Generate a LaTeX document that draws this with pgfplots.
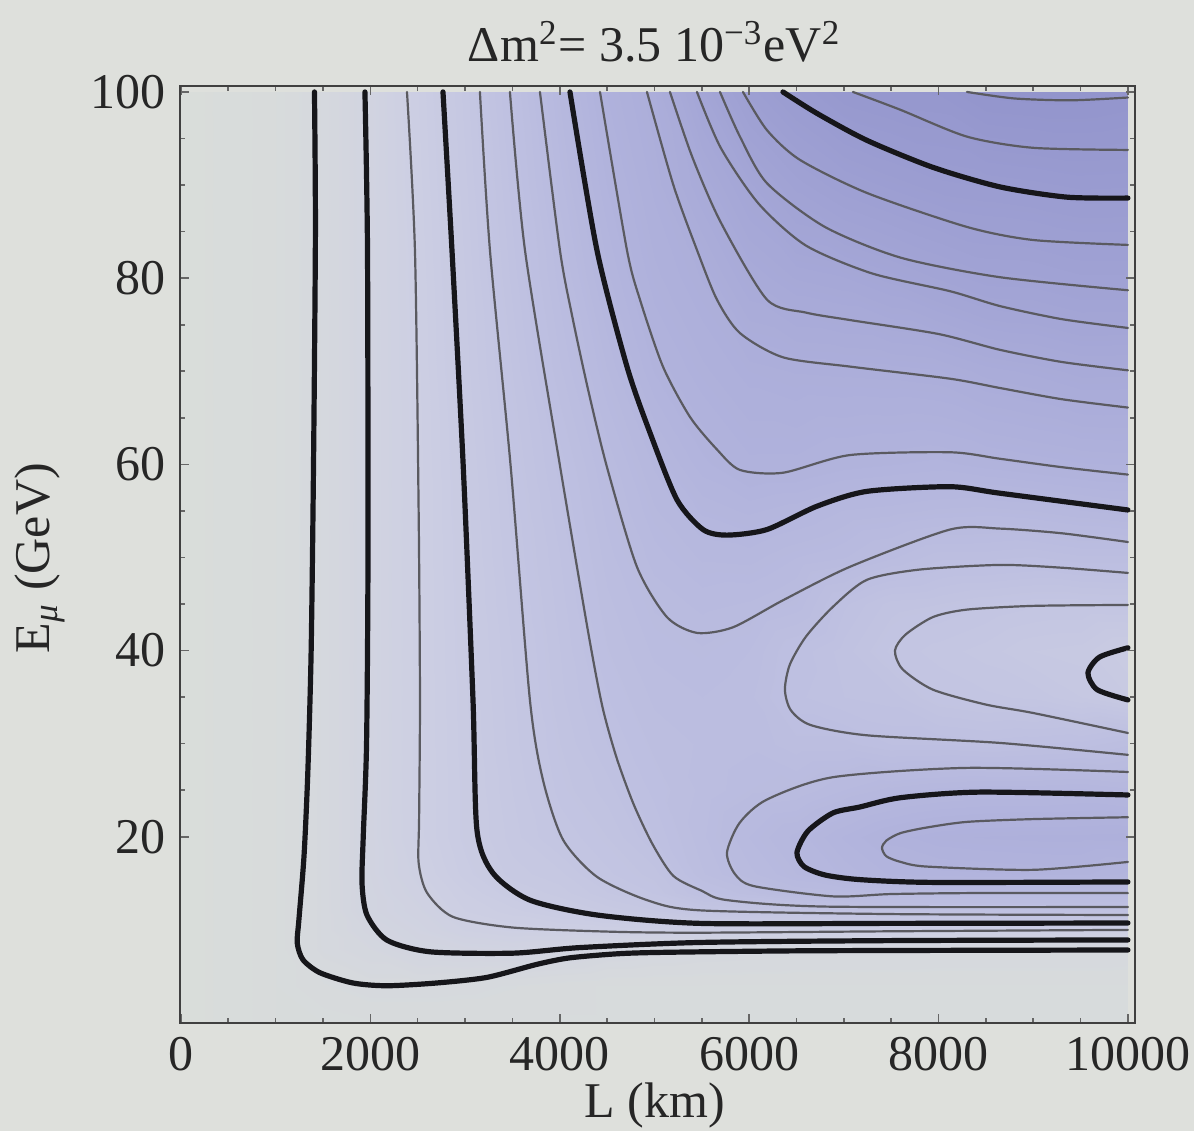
\documentclass[border=0pt]{standalone}
\usepackage{pgfplots}
\pgfplotsset{compat=1.18}
\usepackage{fontspec}
\setmainfont{Liberation Serif}
\usetikzlibrary{backgrounds}
\definecolor{pagebg}{RGB}{222,224,220}
\definecolor{thinc}{RGB}{90,90,96}
\definecolor{thickc}{RGB}{22,22,26}
\pgfplotsset{
  thickl/.style={line width=1.3pt, color=thickc, smooth, tension=0.45, no markers, line join=round, line cap=round},
  thinl/.style={line width=0.55pt, color=thinc, smooth, tension=0.45, no markers, line join=round, line cap=round},
}
\begin{document}
\begin{tikzpicture}
\begin{axis}[
  name=ax, at={(0,0)}, anchor=south west,
  width=238.75pt, height=234.25pt, scale only axis,
  xmin=-10, xmax=10075, ymin=0, ymax=100.64,
  xtick={0,2000,4000,6000,8000,10000}, ytick={20,40,60,80,100},
  minor x tick num=3, minor y tick num=3,
  tick align=inside, major tick length=2.2pt, minor tick length=1.2pt,
  tick style={black!60, line width=0.4pt},
  axis on top,
  axis line style={black!75, line width=0.6pt},
  scaled x ticks=false,
  /pgf/number format/assume math mode=true,
  /pgf/number format/set thousands separator={},
  tick label style={font=\fontsize{12.5}{15}\selectfont, text=black!85},
  label style={font=\fontsize{12.5}{15}\selectfont, text=black!85},
  title style={font=\fontsize{12.5}{15}\selectfont, text=black!85, at={(axis description cs:0.497,1.047)}, anchor=center, yshift=-6pt},
  xlabel={L (km)},
  xlabel style={at={(axis description cs:0.497,-0.0875)}, anchor=center},
  ylabel={E\textsubscript{\textit{μ}} (GeV)},
  ylabel style={at={(axis description cs:-0.1466,0.496)}, anchor=center},
  title={Δm\textsuperscript{2}= 3.5 10\textsuperscript{−3}eV\textsuperscript{2}},
  colormap={cont}{rgb255(0pt)=(217,221,218); rgb255(10pt)=(214,217,221); rgb255(30pt)=(205,207,227); rgb255(60pt)=(190,192,225); rgb255(90pt)=(176,178,220); rgb255(120pt)=(164,166,214); rgb255(175pt)=(146,148,204)},
  point meta min=0, point meta max=17.5,
]
% shading of the contour levels
\addplot[surf, shader=interp, mesh/cols=20, point meta=explicit] coordinates {
(0,0)[0] (1000,0)[0.5] (1500,0)[0.5] (2000,0)[0.6] (2500,0)[0.6] (3000,0)[0.6] (3500,0)[0.6] (4000,0)[0.6] (4500,0)[0.6] (5000,0)[0.6] (5500,0)[0.6] (6000,0)[0.6] (6500,0)[0.6] (7000,0)[0.6] (7500,0)[0.6] (8000,0)[0.6] (8500,0)[0.6] (9000,0)[0.6] (9500,0)[0.6] (10000,0)[0.6]

(0,4)[0] (1000,4)[0.5] (1500,4)[0.8] (2000,4)[1.0] (2500,4)[1.0] (3000,4)[0.95] (3500,4)[0.85] (4000,4)[0.7] (4500,4)[0.6] (5000,4)[0.6] (5500,4)[0.6] (6000,4)[0.6] (6500,4)[0.6] (7000,4)[0.6] (7500,4)[0.6] (8000,4)[0.6] (8500,4)[0.6] (9000,4)[0.6] (9500,4)[0.6] (10000,4)[0.6]

(0,8)[0] (1000,8)[0.5] (1500,8)[1.2] (2000,8)[1.5] (2500,8)[2.0] (3000,8)[2.1] (3500,8)[2.2] (4000,8)[2.05] (4500,8)[1.67] (5000,8)[1.5] (5500,8)[1.36] (6000,8)[1.3] (6500,8)[1.2] (7000,8)[1.2] (7500,8)[1.2] (8000,8)[1.15] (8500,8)[1.15] (9000,8)[1.15] (9500,8)[1.15] (10000,8)[1.1]

(0,10)[0] (1000,10)[0.5] (1500,10)[1.2] (2000,10)[1.8] (2500,10)[2.2] (3000,10)[2.7] (3500,10)[2.93] (4000,10)[3.0] (4500,10)[3.12] (5000,10)[3.19] (5500,10)[3.3] (6000,10)[3.3] (6500,10)[3.25] (7000,10)[3.2] (7500,10)[3.2] (8000,10)[3.2] (8500,10)[3.2] (9000,10)[3.2] (9500,10)[3.2] (10000,10)[3.0]

(0,12)[0] (1000,12)[0.5] (1500,12)[1.2] (2000,12)[2.05] (2500,12)[2.4] (3000,12)[3.1] (3500,12)[3.4] (4000,12)[3.8] (4500,12)[4.14] (5000,12)[4.46] (5500,12)[4.93] (6000,12)[5.1] (6500,12)[5.2] (7000,12)[5.35] (7500,12)[5.6] (8000,12)[5.6] (8500,12)[5.6] (9000,12)[5.6] (9500,12)[5.6] (10000,12)[5.5]

(0,14)[0] (1000,14)[0.5] (1500,14)[1.2] (2000,14)[2.05] (2500,14)[2.6] (3000,14)[3.3] (3500,14)[3.86] (4000,14)[4.19] (4500,14)[4.68] (5000,14)[5.12] (5500,14)[5.95] (6000,14)[6.43] (6500,14)[6.97] (7000,14)[7.1] (7500,14)[7.1] (8000,14)[7.1] (8500,14)[7.1] (9000,14)[7.1] (9500,14)[7.1] (10000,14)[7.03]

(0,16)[0] (1000,16)[0.5] (1500,16)[1.2] (2000,16)[2.1] (2500,16)[2.8] (3000,16)[3.6] (3500,16)[4.2] (4000,16)[4.44] (4500,16)[5.05] (5000,16)[5.39] (5500,16)[6.5] (6000,16)[7.1] (6500,16)[7.6] (7000,16)[8.1] (7500,16)[8.5] (8000,16)[8.6] (8500,16)[8.65] (9000,16)[8.7] (9500,16)[8.75] (10000,16)[8.4]

(0,20)[0] (1000,20)[0.5] (1500,20)[1.2] (2000,20)[2.1] (2500,20)[3.0] (3000,20)[3.79] (3500,20)[4.4] (4000,20)[4.95] (4500,20)[5.3] (5000,20)[5.9] (5500,20)[6.7] (6000,20)[7.4] (6500,20)[7.9] (7000,20)[8.5] (7500,20)[9.0] (8000,20)[9.3] (8500,20)[9.4] (9000,20)[9.45] (9500,20)[9.45] (10000,20)[9.5]

(0,25)[0] (1000,25)[0.5] (1500,25)[1.2] (2000,25)[2.1] (2500,25)[3.0] (3000,25)[3.8] (3500,25)[4.5] (4000,25)[5.18] (4500,25)[5.6] (5000,25)[6.18] (5500,25)[6.6] (6000,25)[6.9] (6500,25)[7.0] (7000,25)[7.4] (7500,25)[7.7] (8000,25)[7.9] (8500,25)[8.0] (9000,25)[8.0] (9500,25)[8.1] (10000,25)[7.9]

(0,30)[0] (1000,30)[0.5] (1500,30)[1.2] (2000,30)[2.1] (2500,30)[3.0] (3000,30)[3.83] (3500,30)[4.6] (4000,30)[5.3] (4500,30)[5.9] (5000,30)[6.38] (5500,30)[6.57] (6000,30)[6.7] (6500,30)[6.4] (7000,30)[6.4] (7500,30)[6.1] (8000,30)[6.1] (8500,30)[6.0] (9000,30)[6.1] (9500,30)[6.2] (10000,30)[6.5]

(0,35)[0] (1000,35)[0.5] (1500,35)[1.2] (2000,35)[2.1] (2500,35)[3.0] (3000,35)[3.86] (3500,35)[4.65] (4000,35)[5.44] (4500,35)[6.1] (5000,35)[6.59] (5500,35)[6.75] (6000,35)[6.6] (6500,35)[5.95] (7000,35)[5.7] (7500,35)[5.6] (8000,35)[5.1] (8500,35)[4.95] (9000,35)[4.85] (9500,35)[4.5] (10000,35)[4.1]

(0,40)[0] (1000,40)[0.5] (1500,40)[1.2] (2000,40)[2.1] (2500,40)[3.0] (3000,40)[3.9] (3500,40)[4.7] (4000,40)[5.5] (4500,40)[6.3] (5000,40)[6.8] (5500,40)[6.93] (6000,40)[6.75] (6500,40)[6.05] (7000,40)[5.6] (7500,40)[5.05] (8000,40)[4.8] (8500,40)[4.6] (9000,40)[4.3] (9500,40)[4.2] (10000,40)[3.7]

(0,45)[0] (1000,45)[0.5] (1500,45)[1.2] (2000,45)[2.1] (2500,45)[3.0] (3000,45)[3.93] (3500,45)[4.8] (4000,45)[5.6] (4500,45)[6.47] (5000,45)[7.0] (5500,45)[7.25] (6000,45)[7.15] (6500,45)[6.9] (7000,45)[5.95] (7500,45)[5.4] (8000,45)[5.3] (8500,45)[5.1] (9000,45)[4.95] (9500,45)[4.95] (10000,45)[5.0]

(0,50)[0] (1000,50)[0.5] (1500,50)[1.2] (2000,50)[2.1] (2500,50)[3.0] (3000,50)[3.96] (3500,50)[4.9] (4000,50)[5.7] (4500,50)[6.65] (5000,50)[7.29] (5500,50)[7.65] (6000,50)[7.7] (6500,50)[7.4] (7000,50)[7.2] (7500,50)[6.8] (8000,50)[6.4] (8500,50)[6.4] (9000,50)[6.3] (9500,50)[6.5] (10000,50)[6.5]

(0,55)[0] (1000,55)[0.5] (1500,55)[1.2] (2000,55)[2.1] (2500,55)[3.0] (3000,55)[4.0] (3500,55)[4.97] (4000,55)[5.85] (4500,55)[6.83] (5000,55)[7.57] (5500,55)[8.08] (6000,55)[8.3] (6500,55)[8.1] (7000,55)[7.8] (7500,55)[7.7] (8000,55)[7.55] (8500,55)[7.5] (9000,55)[7.6] (9500,55)[7.8] (10000,55)[7.95]

(0,60)[0] (1000,60)[0.5] (1500,60)[1.2] (2000,60)[2.1] (2500,60)[3.0] (3000,60)[4.05] (3500,60)[5.07] (4000,60)[6.0] (4500,60)[7.02] (5000,60)[7.86] (5500,60)[8.6] (6000,60)[9.05] (6500,60)[9.04] (7000,60)[8.8] (7500,60)[8.7] (8000,60)[8.6] (8500,60)[8.8] (9000,60)[8.95] (9500,60)[9.1] (10000,60)[9.15]

(0,70)[0] (1000,70)[0.5] (1500,70)[1.2] (2000,70)[2.1] (2500,70)[3.05] (3000,70)[4.2] (3500,70)[5.3] (4000,70)[6.5] (4500,70)[7.6] (5000,70)[8.7] (5500,70)[9.3] (6000,70)[9.75] (6500,70)[9.9] (7000,70)[9.95] (7500,70)[10.0] (8000,70)[10.1] (8500,70)[10.5] (9000,70)[10.7] (9500,70)[11.0] (10000,70)[10.97]

(0,80)[0] (1000,80)[0.5] (1500,80)[1.2] (2000,80)[2.1] (2500,80)[3.1] (3000,80)[4.3] (3500,80)[5.57] (4000,80)[6.87] (4500,80)[8.18] (5000,80)[9.28] (5500,80)[9.9] (6000,80)[10.9] (6500,80)[11.4] (7000,80)[11.6] (7500,80)[12.0] (8000,80)[12.5] (8500,80)[12.95] (9000,80)[13.0] (9500,80)[13.3] (10000,80)[13.3]

(0,90)[0] (1000,90)[0.5] (1500,90)[1.2] (2000,90)[2.1] (2500,90)[3.2] (3000,90)[4.45] (3500,90)[5.8] (4000,90)[7.3] (4500,90)[8.7] (5000,90)[9.7] (5500,90)[10.9] (6000,90)[12.06] (6500,90)[13.2] (7000,90)[13.95] (7500,90)[14.4] (8000,90)[14.8] (8500,90)[14.95] (9000,90)[15.1] (9500,90)[15.3] (10000,90)[15.25]

(0,100)[0] (1000,100)[0.5] (1500,100)[1.2] (2000,100)[2.1] (2500,100)[3.3] (3000,100)[4.6] (3500,100)[6.05] (4000,100)[7.66] (4500,100)[9.15] (5000,100)[10.1] (5500,100)[12.1] (6000,100)[14.1] (6500,100)[15.2] (7000,100)[16.1] (7500,100)[16.4] (8000,100)[16.5] (8500,100)[17.2] (9000,100)[17.3] (9500,100)[17.3] (10000,100)[17.1]
};
% contour lines: vertical-to-horizontal family
\addplot[thickl] coordinates {(1410,100) (1420,85) (1400,60) (1375,40) (1340,27) (1300,18) (1245,11) (1228,8.6) (1288,6.8) (1468,5.4) (1816,4.3) (2175,4.0) (2703,4.3) (3231,4.9) (3759,6.3) (4108,7.0) (4636,7.45) (5164,7.6) (6500,7.75) (8000,7.8) (10000,7.84)};
\addplot[thickl] coordinates {(1943,100) (1970,83) (1975,50) (1960,30) (1925,20) (1912,15) (1964,11.6) (2175,8.9) (2629,7.65) (3506,7.5) (4213,8.1) (5481,8.65) (7500,8.85) (10000,8.92)};
\addplot[thinl] coordinates {(2387,100) (2471,83) (2510,55) (2524,35) (2515,22) (2510,17.2) (2598,14.0) (2872,11.4) (3506,10.25) (4562,9.8) (5481,9.7) (7500,9.85) (10000,10.0)};
\addplot[thickl] coordinates {(2767,100) (2862,83) (2980,60) (3084,34.7) (3126,20.7) (3295,16.1) (3685,13.2) (4393,11.6) (5481,10.7) (7500,10.7) (10000,10.74)};
\addplot[thinl] coordinates {(3157,100) (3263,83) (3480,60) (3685,34.7) (3823,26.1) (4034,19.7) (4393,15.7) (4921,13.2) (5481,12.1) (7500,11.7) (10000,11.6)};
\addplot[thinl] coordinates {(3474,100) (3633,83) (4000,60) (4300,42) (4450,34) (4600,28.5) (4780,23.5) (4980,19.2) (5200,15.8) (5500,14.2) (5766,13.2) (6822,12.5) (10000,12.46)};
\addplot[thinl] coordinates {(3791,100) (4002,83) (4130,76) (4300,68) (4499,59.7) (4815,49.0) (5132,43.6) (5449,41.9) (5829,42.5) (6357,45.4) (7065,49.0) (8121,53.0) (8649,53.1) (9300,52.6) (10000,51.66)};
\addplot[thickl] coordinates {(4108,100) (4393,83) (4710,70.5) (4953,63.4) (5238,56.2) (5513,53.0) (5766,52.4) (6188,53.0) (6716,55.5) (7244,57.1) (8121,57.6) (8649,56.9) (10000,55.1)};
\addplot[thinl] coordinates {(4425,100) (4710,83) (4847,77.7) (5090,70.5) (5375,65.1) (5660,61.6) (5903,59.4) (6357,59.1) (7065,61.0) (8121,61.3) (8649,60.6) (9300,59.7) (10000,58.9)};
\addplot[thinl] coordinates {(4921,100) (5200,90) (5450,83) (5660,77.7) (5903,74.1) (6357,71.5) (7065,70.5) (8121,69.2) (8649,68.2) (9300,67.0) (10000,66.1)};
\addplot[thinl] coordinates {(5164,100) (5400,93) (5700,86) (6188,77.7) (6600,76.3) (7065,75.5) (8000,74.0) (8649,72.3) (9300,71.0) (10000,70.1)};
\addplot[thinl] coordinates {(5449,100) (5700,94) (6100,88) (6600,83.5) (7300,80.5) (8121,78.6) (8649,77.0) (9300,75.6) (10000,74.65)};
\addplot[thinl] coordinates {(5692,100) (5903,95.2) (6188,90.2) (6800,85.5) (7600,82.2) (8649,80.1) (10000,78.7)};
\addplot[thinl] coordinates {(5935,100) (6188,95.9) (6537,92.7) (7244,89.15) (8300,85.5) (8997,84.1) (10000,83.57)};
\addplot[thickl] coordinates {(6357,100) (6716,97.7) (7244,94.8) (7941,91.9) (8649,89.8) (9356,88.7) (10000,88.6)};
\addplot[thinl] coordinates {(7096,100) (7593,98.1) (8300,95.2) (8997,94.0) (10000,93.77)};
\addplot[thinl] coordinates {(8300,100) (8800,99.3) (9400,99.1) (10000,99.4)};
% lower nest (dark island)
\addplot[thinl] coordinates {(10000,26.96) (8300,27.4) (6885,26.4) (6188,24.0) (5900,21.5) (5766,18.3) (5850,16.0) (6050,14.7) (6885,13.6) (7500,13.85) (8437,13.96) (10000,13.96)};
\addplot[thickl] coordinates {(10000,24.49) (8437,24.8) (7600,24.2) (7170,23.2) (6885,22.56) (6620,20.6) (6505,18.3) (6580,16.8) (6800,15.9) (7170,15.4) (7941,15.1) (10000,15.15)};
\addplot[thinl] coordinates {(10000,22.1) (9000,21.9) (8300,21.6) (7878,21.0) (7600,20.4) (7450,19.6) (7403,18.8) (7450,17.9) (7600,17.3) (7878,16.8) (8997,16.45) (10000,17.3)};
% upper nest (light island)
\addplot[thinl] coordinates {(10000,48.34) (9300,48.9) (8649,49.2) (7800,48.7) (7244,47.6) (6885,44.7) (6600,41.5) (6430,38.5) (6378,35.8) (6440,33.6) (6650,32.0) (7244,30.9) (8649,30.08) (10000,28.8)};
\addplot[thinl] coordinates {(10000,44.9) (9000,44.8) (8300,44.4) (7941,43.6) (7650,41.7) (7540,40.0) (7620,38.0) (7941,35.8) (8500,34.2) (8997,33.3) (10000,31.15)};
\addplot[thickl] coordinates {(10000,40.3) (9700,39.3) (9578,37.6) (9675,35.8) (10000,34.7)};
\end{axis}
\begin{scope}[on background layer]
\fill[pagebg] (ax.south west) ++(-45pt,-27pt) rectangle ++(298.5pt,282.75pt);
\end{scope}
\pgfresetboundingbox
\path (ax.south west) ++(-45pt,-27pt) rectangle ++(298.5pt,282.75pt);
\end{tikzpicture}
\end{document}
